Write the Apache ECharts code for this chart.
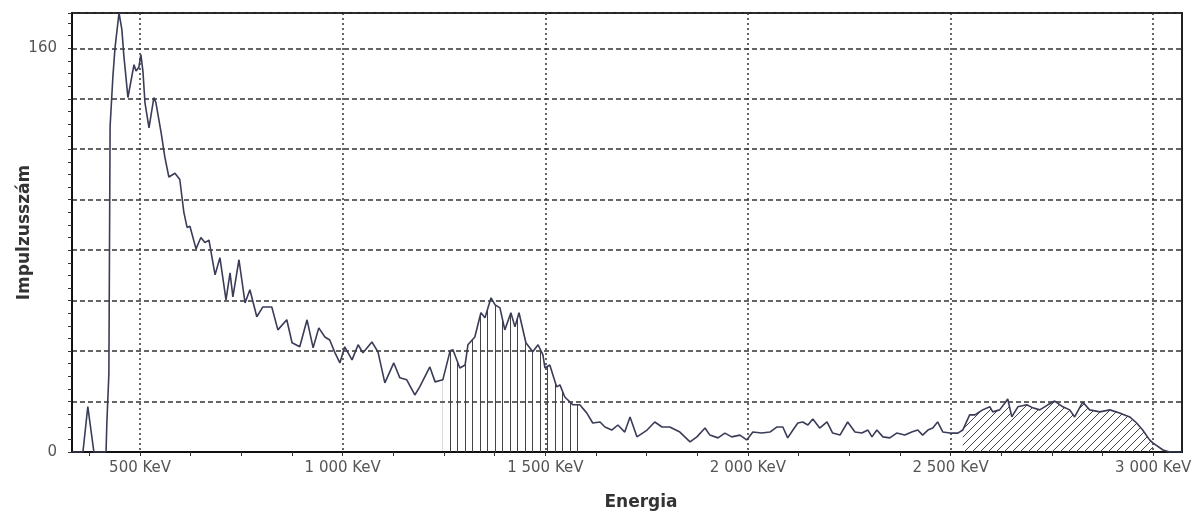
<!DOCTYPE html>
<html>
<head>
<meta charset="utf-8">
<script src="https://cdn.jsdelivr.net/npm/echarts@6/dist/echarts.min.js"></script>
<style>
  html, body { margin: 0; padding: 0; background: #fff; }
  #chart { width: 1193px; height: 512px; }
</style>
</head>
<body>
<div id="chart"></div>
<script>
// energia (keV) és impulzusszám
const energy = [332, 359, 371, 386, 416, 418, 423, 426, 433, 438, 448, 455, 460, 470, 485, 490, 497, 502, 507, 512,
  522, 534, 539, 552, 561, 571, 586, 598, 608, 616, 623, 638, 650, 660, 670, 677, 685, 697, 712, 722,
  729, 744, 759, 771, 788, 803, 825, 840, 862, 875, 894, 912, 927, 941, 956, 968, 981, 993, 1005, 1023,
  1038, 1050, 1072, 1087, 1104, 1126, 1141, 1158, 1178, 1190, 1215, 1228, 1247, 1265, 1272, 1289, 1302, 1309, 1326, 1341,
  1351, 1366, 1376, 1388, 1400, 1415, 1425, 1435, 1452, 1469, 1482, 1494, 1499, 1511, 1528, 1536, 1548, 1568, 1585, 1602,
  1617, 1635, 1647, 1664, 1679, 1696, 1709, 1726, 1751, 1770, 1788, 1807, 1832, 1857, 1874, 1894, 1906, 1926, 1943, 1960,
  1980, 1997, 2012, 2034, 2054, 2071, 2086, 2098, 2111, 2123, 2135, 2148, 2160, 2177, 2195, 2209, 2227, 2246, 2264, 2281,
  2296, 2306, 2318, 2333, 2350, 2367, 2387, 2404, 2419, 2431, 2444, 2456, 2468, 2481, 2498, 2518, 2530, 2547, 2560, 2579,
  2597, 2604, 2621, 2634, 2641, 2651, 2666, 2688, 2703, 2720, 2740, 2757, 2777, 2794, 2806, 2826, 2843, 2868, 2893, 2917,
  2942, 2959, 2974, 2991, 2999, 3024, 3041, 3071];
const counts = [0, 0, 18, 0, 0, 11.5, 31, 129, 149, 160, 174, 167.5, 157, 140.5, 153.5, 151, 152.5, 157.5, 151, 138.5,
  128.5, 140.5, 138.5, 126.5, 117, 109, 110.5, 108, 95, 89, 89.5, 80.5, 85, 83, 84, 77.5, 70.2, 77, 60.3, 71,
  61.5, 76.2, 59.1, 64.3, 53.6, 57.5, 57.5, 48.4, 52.4, 43.3, 41.7, 52.4, 41.3, 49.2, 45.6, 44.4, 39.3, 35.3, 41.7, 36.5,
  42.5, 39.3, 43.6, 39.7, 27.4, 35.3, 29.4, 28.6, 22.6, 25.8, 33.7, 27.8, 28.6, 40.1, 40.5, 33.3, 34.5, 42.5, 45.6, 55.2,
  53.2, 61.1, 58.3, 57.1, 48.4, 55.2, 49.6, 55.2, 43.3, 39.7, 42.5, 38.5, 33.3, 34.5, 25.8, 26.6, 21.8, 18.7, 18.7, 15.5,
  11.5, 11.9, 9.9, 8.7, 10.7, 7.9, 13.9, 6, 8.7, 11.9, 9.9, 9.9, 7.9, 4, 6, 9.5, 6.7, 5.6, 7.5, 6,
  6.7, 4.8, 7.9, 7.5, 7.9, 9.9, 9.9, 5.6, 8.7, 11.5, 11.9, 10.7, 13.1, 9.5, 11.9, 7.5, 6.7, 11.9, 7.9, 7.5,
  8.7, 6, 8.7, 6, 5.6, 7.5, 6.7, 7.9, 8.7, 6.7, 8.7, 9.5, 11.9, 7.9, 7.5, 7.5, 8.7, 14.7, 14.7, 16.7,
  17.9, 15.9, 16.7, 19.4, 21, 13.9, 17.9, 18.7, 17.5, 16.7, 18.7, 20.2, 17.9, 16.7, 13.9, 19.8, 16.7, 15.9, 16.7, 15.5,
  13.9, 11.5, 8.7, 4.8, 3.6, 0.8, 0, 0];

// kijelölt tartományok (keV)
const peakBand = [1247, 1585];
const edgeBand = [2530, 2999];

// tengelyfeliratok
const xLabels = [500, 1000, 1500, 2000, 2500, 3000];
const xMinorTicks = [375, 500, 625, 750, 875, 1000, 1125, 1250, 1375, 1500, 1625, 1750, 1875, 2000,
  2125, 2250, 2375, 2500, 2625, 2750, 2875, 3000];
const yLabels = [0, 160];

const points = energy.map((e, i) => [e, counts[i]]);
const inBand = band => points.filter(p => p[0] >= band[0] && p[0] <= band[1]);

function hatch(w, h, draw) {
  const c = document.createElement('canvas');
  c.width = w;
  c.height = h;
  const g = c.getContext('2d');
  g.strokeStyle = '#444';
  g.lineWidth = 1;
  g.beginPath();
  draw(g);
  g.stroke();
  return c;
}
const vHatch = hatch(15, 4, g => {
  g.moveTo(0.5, 0); g.lineTo(0.5, 4);
  g.moveTo(7.5, 0); g.lineTo(7.5, 4);
});
const dHatch = hatch(8, 8, g => {
  g.moveTo(-1, 9); g.lineTo(9, -1);
  g.moveTo(-1, 1); g.lineTo(1, -1);
  g.moveTo(7, 9); g.lineTo(9, 7);
});

const fmtKev = v => String(v).replace(/\B(?=(\d{3})+$)/g, ' ') + ' KeV';
const font = 'DejaVu Sans';

let chart = echarts.init(document.getElementById('chart'));
chart.setOption({
  animation: false,
  grid: {
    left: 72, right: 11, top: 13, bottom: 60,
    outerBoundsMode: 'none',
    show: true, borderColor: '#222', borderWidth: 2
  },
  xAxis: [{
    type: 'value', min: 332, max: 3071, position: 'bottom',
    axisLine: { show: true, lineStyle: { color: '#111', width: 2 } },
    axisTick: { show: true, customValues: xMinorTicks, length: 4, lineStyle: { color: '#333' } },
    axisLabel: { show: false },
    splitLine: { show: false }
  }, {
    type: 'value', min: 332, max: 3071, position: 'bottom',
    axisLine: { show: false },
    axisTick: { show: false, customValues: xLabels },
    axisLabel: {
      customValues: xLabels, formatter: fmtKev, margin: 9,
      color: '#555', fontFamily: font, fontSize: 15
    },
    splitLine: { show: true, lineStyle: { color: '#333', width: 1.5, type: [2, 3] } },
    name: 'Energia', nameLocation: 'middle', nameGap: 42, nameMoveOverlap: false,
    nameTextStyle: { color: '#333', fontFamily: font, fontSize: 17, fontWeight: 'bold', padding: [0, 0, 0, 28] }
  }],
  yAxis: {
    type: 'value', min: 0, max: 174, interval: 20,
    axisLine: { show: true, lineStyle: { color: '#111', width: 2 } },
    axisTick: { show: true, length: 4, lineStyle: { color: '#333' } },
    minorTick: { show: true, splitNumber: 4, length: 4, lineStyle: { color: '#333' } },
    axisLabel: {
      formatter: v => yLabels.includes(v) ? String(v) : '',
      margin: 15, color: '#555', fontFamily: font, fontSize: 15
    },
    splitLine: { show: true, lineStyle: { color: '#333', width: 1.5, type: [5, 3] } },
    name: 'Impulzusszám', nameLocation: 'middle', nameGap: 39, nameMoveOverlap: false,
    nameTextStyle: { color: '#333', fontFamily: font, fontSize: 17, fontWeight: 'bold' }
  },
  series: [{
    type: 'line', data: inBand(peakBand), showSymbol: false, silent: true,
    lineStyle: { width: 0 },
    areaStyle: { color: { image: vHatch, repeat: 'repeat' }, opacity: 1 }
  }, {
    type: 'line', data: inBand(edgeBand), showSymbol: false, silent: true,
    lineStyle: { width: 0 },
    areaStyle: { color: { image: dHatch, repeat: 'repeat' }, opacity: 1 }
  }, {
    name: 'Impulzusszám', type: 'line', data: points, showSymbol: false, z: 5,
    lineStyle: { color: '#3a3c58', width: 1.6 }
  }]
});
</script>
</body>
</html>
